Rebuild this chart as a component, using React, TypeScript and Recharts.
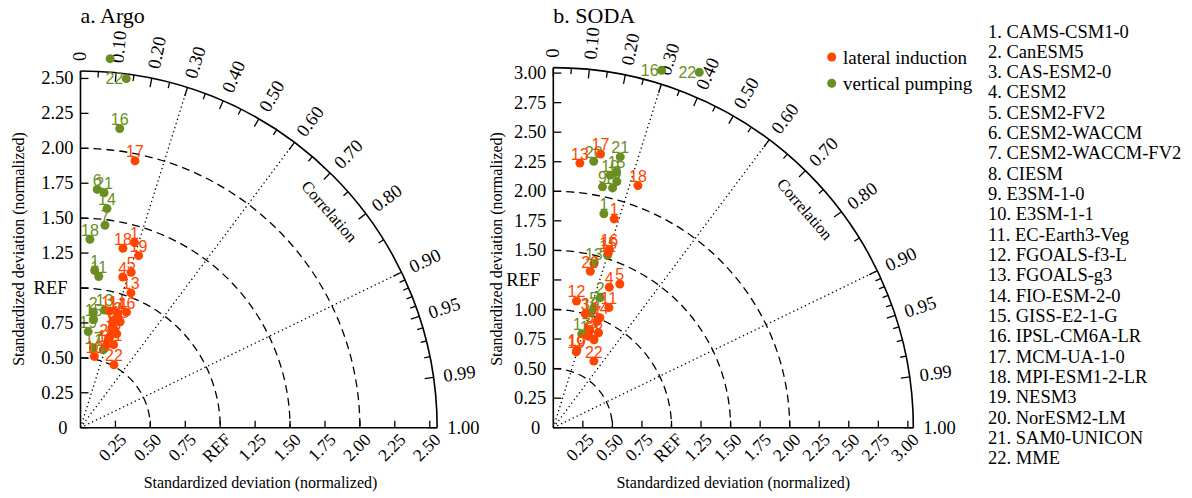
import React from 'react'
import { ScatterChart, Scatter, XAxis, YAxis, Customized } from 'recharts'

const ORANGE = '#FF4500'
const GREEN = '#6B8E23'
const SERIF = "'Liberation Serif', 'Times New Roman', serif"
const SANS = "'Liberation Sans', Arial, sans-serif"

const models = [
  'CAMS-CSM1-0', 'CanESM5', 'CAS-ESM2-0', 'CESM2', 'CESM2-FV2', 'CESM2-WACCM',
  'CESM2-WACCM-FV2', 'CIESM', 'E3SM-1-0', 'E3SM-1-1', 'EC-Earth3-Veg', 'FGOALS-f3-L',
  'FGOALS-g3', 'FIO-ESM-2-0', 'GISS-E2-1-G', 'IPSL-CM6A-LR', 'MCM-UA-1-0',
  'MPI-ESM1-2-LR', 'NESM3', 'NorESM2-LM', 'SAM0-UNICON', 'MME',
]

// a. Argo, lateral induction (std normalized, correlation)
const argoLatIds = ['17', '18', '1', '19', '4', '5', '13', '11', '14', '16', '6', '2', '8', '3', '7', '20', '21', '12', '9', '15', '10', '22']
const argoLatStd = [1.95, 1.32, 1.38, 1.30, 1.12, 1.17, 1.03, 0.86, 0.86, 0.89, 0.79, 0.83, 0.74, 0.72, 0.69, 0.66, 0.64, 0.62, 0.75, 0.81, 0.52, 0.51]
const argoLatCorr = [0.20, 0.23, 0.28, 0.32, 0.27, 0.31, 0.35, 0.24, 0.31, 0.37, 0.29, 0.32, 0.33, 0.36, 0.31, 0.30, 0.37, 0.30, 0.30, 0.35, 0.19, 0.47]

// a. Argo, vertical pumping
const argoVerIds = ['', '22', '16', '6', '21', '14', '7', '18', '1', '11', '13', '2', '15', '19', '17', '12']
const argoVerStd = [2.65, 2.52, 2.16, 1.71, 1.69, 1.58, 1.46, 1.35, 1.13, 1.09, 0.86, 0.83, 0.78, 0.69, 0.58, 0.58]
const argoVerCorr = [0.08, 0.13, 0.13, 0.07, 0.10, 0.12, 0.12, 0.05, 0.09, 0.12, 0.20, 0.11, 0.12, 0.08, 0.16, 0.28]

// b. SODA, lateral induction
const sodaLatIds = ['13', '17', '18', '1', '16', '15', '20', '4', '5', '12', '11', '3', '14', '7', '2', '8', '6', '9', '19', '10', '22']
const sodaLatStd = [2.25, 2.35, 2.17, 1.84, 1.58, 1.55, 1.36, 1.28, 1.34, 1.09, 1.12, 1.00, 1.01, 0.97, 0.88, 0.89, 0.83, 0.82, 0.67, 0.69, 0.66]
const sodaLatCorr = [0.10, 0.17, 0.33, 0.28, 0.30, 0.30, 0.23, 0.37, 0.42, 0.18, 0.42, 0.27, 0.39, 0.38, 0.35, 0.43, 0.36, 0.42, 0.29, 0.29, 0.52]

// b. SODA, vertical pumping
const sodaVerIds = ['16', '22', '21', '20', '10', '15', '3', '9', '14', '1', '11', '13', '2', '5', '19', '17', '12']
const sodaVerStd = [3.16, 3.25, 2.36, 2.28, 2.19, 2.23, 2.15, 2.08, 2.09, 1.86, 1.53, 1.43, 1.17, 1.07, 1.02, 0.83, 0.83]
const sodaVerCorr = [0.29, 0.38, 0.24, 0.15, 0.22, 0.24, 0.25, 0.20, 0.24, 0.23, 0.30, 0.24, 0.34, 0.32, 0.31, 0.29, 0.36]

const argoYTicks = [0, 0.25, 0.5, 0.75, 1, 1.25, 1.5, 1.75, 2, 2.25, 2.5]
const argoYLabels = ['0', '0.25', '0.50', '0.75', 'REF', '1.25', '1.50', '1.75', '2.00', '2.25', '2.50']
const argoXTicks = [0.25, 0.5, 0.75, 1, 1.25, 1.5, 1.75, 2, 2.25, 2.5]
const argoXLabels = ['0.25', '0.50', '0.75', 'REF', '1.25', '1.50', '1.75', '2.00', '2.25', '2.50']
const sodaYTicks = [0, 0.25, 0.5, 0.75, 1, 1.25, 1.5, 1.75, 2, 2.25, 2.5, 2.75, 3]
const sodaYLabels = ['0', '0.25', '0.50', '0.75', '1.00', 'REF', '1.50', '1.75', '2.00', '2.25', '2.50', '2.75', '3.00']
const sodaXTicks = [0.25, 0.5, 0.75, 1, 1.25, 1.5, 1.75, 2, 2.25, 2.5, 2.75, 3]
const sodaXLabels = ['0.25', '0.50', '0.75', 'REF', '1.25', '1.50', '1.75', '2.00', '2.25', '2.50', '2.75', '3.00']

const corrVals = [0, 0.1, 0.2, 0.3, 0.4, 0.5, 0.6, 0.7, 0.8, 0.9, 0.95, 0.99, 1]
const corrLabels = ['0', '0.10', '0.20', '0.30', '0.40', '0.50', '0.60', '0.70', '0.80', '0.90', '0.95', '0.99', '1.00']
const corrMinor = [0.05, 0.15, 0.25, 0.35, 0.45, 0.55, 0.65, 0.75, 0.85, 0.91, 0.92, 0.93, 0.94, 0.96, 0.97, 0.98]
const stdArcs = [0.5, 1, 1.5, 2]
const corrLines = [0.3, 0.6, 0.9]

const toPoints = (ids: string[], std: number[], corr: number[]) =>
  ids.map((id, i) => ({
    id,
    std: std[i],
    x: std[i] * corr[i],
    y: std[i] * Math.sqrt(1 - corr[i] * corr[i]),
  }))

type Cfg = {
  title: string
  left: number
  width: number
  ox: number
  oy: number
  k: number
  R: number
  D: number
  maxTick: number
  yTitleX: number
  yTicks: number[]
  yLabels: string[]
  xTicks: number[]
  xLabels: string[]
  lateral: ReturnType<typeof toPoints>
  vertical: ReturnType<typeof toPoints>
  legend?: boolean
}

const argo: Cfg = {
  title: 'a. Argo', left: 0, width: 500, ox: 80.5, oy: 427.7, k: 139.7, R: 2.553, D: 2.7, maxTick: 2.5,
  yTitleX: 18.5, yTicks: argoYTicks, yLabels: argoYLabels, xTicks: argoXTicks, xLabels: argoXLabels,
  lateral: toPoints(argoLatIds, argoLatStd, argoLatCorr),
  vertical: toPoints(argoVerIds, argoVerStd, argoVerCorr),
}

const soda: Cfg = {
  title: 'b. SODA', left: 470, width: 540, ox: 83.3, oy: 427.7, k: 118.2, R: 3.046, D: 3.2, maxTick: 3,
  yTitleX: 26, yTicks: sodaYTicks, yLabels: sodaYLabels, xTicks: sodaXTicks, xLabels: sodaXLabels,
  lateral: toPoints(sodaLatIds, sodaLatStd, sodaLatCorr),
  vertical: toPoints(sodaVerIds, sodaVerStd, sodaVerCorr),
  legend: true,
}

const TICK_FONT = 18.5

function Overlay({ cfg }: { cfg: Cfg }) {
  const { ox, oy, k, R } = cfg
  const Rp = R * k
  const pt = (r: number, c: number) => {
    const th = Math.acos(c)
    return [ox + r * Math.cos(th), oy - r * Math.sin(th)]
  }
  const arc = (r: number) => `M ${ox} ${oy - r} A ${r} ${r} 0 0 1 ${ox + r} ${oy}`
  const corrTh = Math.acos(0.755)
  const cr = Rp - 27
  const cx = ox + cr * Math.cos(corrTh)
  const cy = oy - cr * Math.sin(corrTh)
  return (
    <g>
      <text x={ox} y={23} fontFamily={SERIF} fontSize={22}>{cfg.title}</text>
      {stdArcs.map(s => (
        <path key={s} d={arc(s * k)} fill="none" stroke="#000" strokeWidth={1.3} strokeDasharray="8 5" />
      ))}
      {corrLines.map(c => {
        const [x2, y2] = pt(Rp, c)
        return <line key={c} x1={ox} y1={oy} x2={x2} y2={y2} stroke="#000" strokeWidth={1.3} strokeDasharray="1.3 3" />
      })}
      <path d={arc(Rp)} fill="none" stroke="#000" strokeWidth={1.6} />
      <line x1={ox} y1={oy} x2={ox} y2={oy - Rp} stroke="#000" strokeWidth={1.6} />
      <line x1={ox} y1={oy} x2={ox + Rp} y2={oy} stroke="#000" strokeWidth={1.6} />
      {corrVals.map(c => {
        const [x1, y1] = pt(Rp, c)
        const [x2, y2] = pt(Rp - 9, c)
        return <line key={c} x1={x1} y1={y1} x2={x2} y2={y2} stroke="#000" strokeWidth={1.3} />
      })}
      {corrMinor.map(c => {
        const [x1, y1] = pt(Rp, c)
        const [x2, y2] = pt(Rp - 6, c)
        return <line key={c} x1={x1} y1={y1} x2={x2} y2={y2} stroke="#000" strokeWidth={1.3} />
      })}
      {corrVals.map((c, i) => {
        const [x, y] = pt(Rp + 10, c)
        const deg = (Math.acos(c) * 180) / Math.PI
        return (
          <text key={c} x={x} y={y} fontFamily={SERIF} fontSize={TICK_FONT} dominantBaseline="central"
            transform={`rotate(${-deg} ${x} ${y})`}>{corrLabels[i]}</text>
        )
      })}
      <text x={cx} y={cy} fontFamily={SERIF} fontSize={16.5} textAnchor="middle" dominantBaseline="central"
        transform={`rotate(${90 - (corrTh * 180) / Math.PI} ${cx} ${cy})`}>
        Correlation
      </text>
      <text x={cfg.yTitleX} y={249} fontFamily={SERIF} fontSize={16} textAnchor="middle" dominantBaseline="central"
        transform={`rotate(-90 ${cfg.yTitleX} 249)`}>Standardized deviation (normalized)</text>
      <text x={ox + 180} y={488} fontFamily={SERIF} fontSize={16} textAnchor="middle">
        Standardized deviation (normalized)
      </text>
      {cfg.legend && (
        <g>
          <circle cx={361.7} cy={57} r={4.5} fill={ORANGE} />
          <text x={373} y={57} fontFamily={SERIF} fontSize={19} dominantBaseline="central">lateral induction</text>
          <circle cx={361.7} cy={83.3} r={4.5} fill={GREEN} />
          <text x={373} y={83.3} fontFamily={SERIF} fontSize={19} dominantBaseline="central">vertical pumping</text>
        </g>
      )}
    </g>
  )
}

const makeShape = (color: string, maxTick: number) => (props: any) => {
  const { cx, cy, payload } = props
  const side = payload.std > maxTick
  return (
    <g>
      <circle cx={cx} cy={cy} r={4.5} fill={color} />
      {payload.id && (
        <text x={side ? cx - 3 : cx} y={side ? cy + 5.5 : cy - 3.5} textAnchor={side ? 'end' : 'middle'}
          fill={color} fontFamily={SANS} fontSize={16}>{payload.id}</text>
      )}
    </g>
  )
}

function Taylor({ cfg }: { cfg: Cfg }) {
  const H = 498
  const plot = cfg.D * cfg.k
  const margin = {
    top: cfg.oy - plot,
    left: cfg.ox - 30,
    right: cfg.width - cfg.ox - plot,
    bottom: H - cfg.oy - 30,
  }
  const YTick = (p: any) => {
    const i = cfg.yTicks.indexOf(p.payload.value)
    const lab = cfg.yLabels[i]
    const short = lab.length < 4
    return (
      <g>
        <line x1={cfg.ox} y1={p.y} x2={cfg.ox + 8} y2={p.y} stroke="#000" strokeWidth={1.3} />
        <text x={cfg.ox - (short ? 13 : 7)} y={p.y} textAnchor="end" dominantBaseline="central"
          fontFamily={SERIF} fontSize={TICK_FONT}>{lab}</text>
      </g>
    )
  }
  const XTick = (p: any) => {
    const i = cfg.xTicks.indexOf(p.payload.value)
    const ax = p.x + 12
    const ay = cfg.oy + 13
    return (
      <g>
        <line x1={p.x} y1={cfg.oy} x2={p.x} y2={cfg.oy - 7} stroke="#000" strokeWidth={1.3} />
        <text x={ax} y={ay} textAnchor="end" fontFamily={SERIF} fontSize={TICK_FONT - 1}
          transform={`rotate(-45 ${ax} ${ay})`}>{cfg.xLabels[i]}</text>
      </g>
    )
  }
  return (
    <div style={{ position: 'absolute', left: cfg.left, top: 0 }}>
      <ScatterChart width={cfg.width} height={H} margin={margin}>
        <Customized component={<Overlay cfg={cfg} />} />
        <XAxis type="number" dataKey="x" domain={[0, cfg.D]} ticks={cfg.xTicks} height={30}
          axisLine={false} tickLine={false} tick={XTick} interval={0} />
        <YAxis type="number" dataKey="y" domain={[0, cfg.D]} ticks={cfg.yTicks} width={30}
          axisLine={false} tickLine={false} tick={YTick} interval={0} />
        <Scatter data={cfg.vertical} isAnimationActive={false} shape={makeShape(GREEN, cfg.maxTick)} />
        <Scatter data={cfg.lateral} isAnimationActive={false} shape={makeShape(ORANGE, cfg.maxTick)} />
      </ScatterChart>
    </div>
  )
}

export default function App() {
  return (
    <div style={{ position: 'absolute', left: 0, top: 0, width: 1192, height: 498, background: '#fff', overflow: 'hidden' }}>
      <Taylor cfg={argo} />
      <Taylor cfg={soda} />
      <svg width={222} height={498} style={{ position: 'absolute', left: 970, top: 0 }}>
        {models.map((m, i) => (
          <text key={m} x={18} y={37.5 + i * 20.33} fontFamily={SERIF} fontSize={18.5}>{`${i + 1}. ${m}`}</text>
        ))}
      </svg>
    </div>
  )
}
